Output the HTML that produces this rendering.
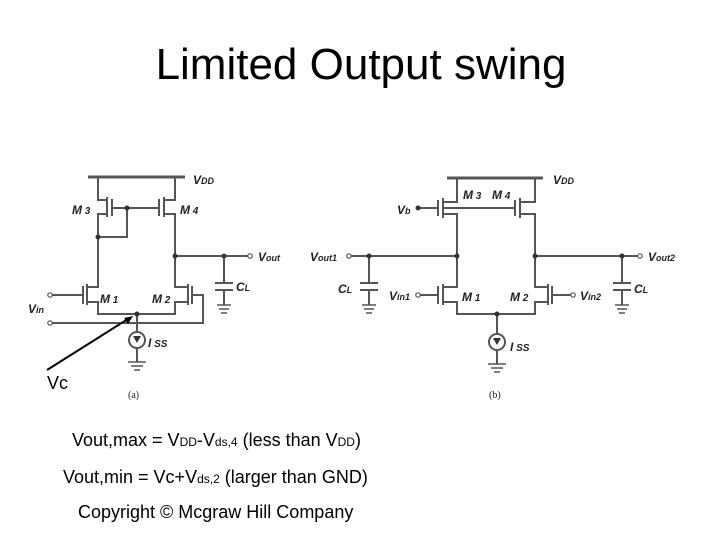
<!DOCTYPE html>
<html><head><meta charset="utf-8"><style>
body{margin:0;width:720px;height:540px;background:#fff;overflow:hidden;position:relative;font-family:"Liberation Sans",sans-serif}
.t{position:absolute;font-size:18px;color:#000;white-space:nowrap}
.s{font-size:12px}
</style></head><body>
<div style="position:absolute;left:0;width:722px;top:40px;text-align:center;font-size:44px">Limited Output swing</div>
<svg width="720" height="540" style="position:absolute;left:0;top:0" font-family="Liberation Sans" font-weight="bold" font-style="italic" font-size="12">
<g stroke="#555" stroke-width="2" fill="none">
<line x1="88" y1="177" x2="185" y2="177" stroke-width="3"/>
<polyline points="98,177 98,200 107,200"/><line x1="107" y1="197" x2="107" y2="217"/><line x1="112" y1="199" x2="112" y2="216"/>
<polyline points="107,214 98,214 98,287 87,287"/>
<line x1="112" y1="208" x2="159" y2="208"/>
<polyline points="127,208 127,237 98,237"/>
<polyline points="175,177 175,200 164,200"/><line x1="164" y1="197" x2="164" y2="217"/><line x1="159" y1="199" x2="159" y2="216"/>
<polyline points="164,214 175,214 175,287 188,287"/>
<line x1="175" y1="256" x2="248" y2="256"/>
<polyline points="224,256 224,283"/><line x1="215" y1="283" x2="233" y2="283"/><line x1="215" y1="290" x2="233" y2="290"/><line x1="224" y1="290" x2="224" y2="305"/>
<line x1="87" y1="284" x2="87" y2="305"/><line x1="83" y1="286" x2="83" y2="304"/>
<line x1="52" y1="295" x2="83" y2="295"/>
<polyline points="87,302 98,302 98,314 175,314 175,302 188,302"/>
<line x1="188" y1="284" x2="188" y2="305"/><line x1="192" y1="286" x2="192" y2="304"/>
<polyline points="192,295 203,295 203,323 52,323"/>
<line x1="137" y1="314" x2="137" y2="332"/><circle cx="137" cy="340" r="8"/><line x1="137" y1="348" x2="137" y2="362"/>
<line x1="447" y1="178" x2="543" y2="178" stroke-width="3"/>
<polyline points="457,178 457,202 443,202"/><line x1="443" y1="198" x2="443" y2="218"/><line x1="438" y1="200" x2="438" y2="216"/>
<polyline points="443,214 457,214 457,287 443,287"/>
<line x1="418" y1="208" x2="438" y2="208"/><line x1="443" y1="208" x2="515" y2="208"/>
<polyline points="535,178 535,202 520,202"/><line x1="520" y1="198" x2="520" y2="218"/><line x1="515" y1="200" x2="515" y2="216"/>
<polyline points="520,214 535,214 535,287 548,287"/>
<line x1="351" y1="256" x2="457" y2="256"/><line x1="535" y1="256" x2="638" y2="256"/>
<line x1="369" y1="256" x2="369" y2="283"/><line x1="360" y1="283" x2="378" y2="283"/><line x1="360" y1="290" x2="378" y2="290"/><line x1="369" y1="290" x2="369" y2="305"/>
<line x1="622" y1="256" x2="622" y2="283"/><line x1="613" y1="283" x2="631" y2="283"/><line x1="613" y1="290" x2="631" y2="290"/><line x1="622" y1="290" x2="622" y2="305"/>
<line x1="443" y1="284" x2="443" y2="305"/><line x1="438" y1="286" x2="438" y2="304"/><line x1="420" y1="295" x2="438" y2="295"/>
<polyline points="443,302 457,302 457,314 535,314 535,302 548,302"/>
<line x1="548" y1="284" x2="548" y2="305"/><line x1="552" y1="286" x2="552" y2="304"/><line x1="552" y1="295" x2="571" y2="295"/>
<line x1="497" y1="314" x2="497" y2="334"/><circle cx="497" cy="342" r="8"/><line x1="497" y1="350" x2="497" y2="364"/>
</g>
<g stroke="#555" stroke-width="1.5">
<path d="M128 362h18M131 366h12M134 370h6"/>
<path d="M217 305h14M219 309h10M221 313h6"/>
<path d="M362 305h14M364 309h10M366 313h6M615 305h14M617 309h10M619 313h6M488 364h18M491 368h12M494 372h6"/>
</g>
<g fill="#333">
<circle cx="98" cy="237" r="2.5"/><circle cx="127" cy="208" r="2.5"/><circle cx="175" cy="256" r="2.5"/><circle cx="224" cy="256" r="2.5"/><circle cx="137" cy="314" r="2.5"/>
<circle cx="457" cy="256" r="2.5"/><circle cx="535" cy="256" r="2.5"/><circle cx="369" cy="256" r="2.5"/><circle cx="622" cy="256" r="2.5"/><circle cx="497" cy="314" r="2.5"/><circle cx="418" cy="208" r="2.5"/>
<path d="M133 336h8l-4 7z M493 338h8l-4 7z"/>
</g>
<g fill="#fff" stroke="#555" stroke-width="1.2">
<circle cx="250" cy="256" r="2.2"/><circle cx="50" cy="295" r="2.2"/><circle cx="50" cy="323" r="2.2"/>
<circle cx="349" cy="256" r="2.2"/><circle cx="640" cy="256" r="2.2"/><circle cx="418" cy="295" r="2.2"/><circle cx="573" cy="295" r="2.2"/>
</g>
<line x1="47" y1="370" x2="128" y2="319" stroke="#000" stroke-width="2"/>
<path d="M133 316l-9 2 4 6z" fill="#000"/>
<g fill="#222">
<text x="193" y="184">V<tspan font-size="9">DD</tspan></text>
<text x="72" y="214">M<tspan font-size="10"> 3</tspan></text>
<text x="180" y="214">M<tspan font-size="10"> 4</tspan></text>
<text x="258" y="261">V<tspan font-size="9">out</tspan></text>
<text x="236" y="291">C<tspan font-size="9">L</tspan></text>
<text x="100" y="303">M<tspan font-size="10"> 1</tspan></text>
<text x="152" y="303">M<tspan font-size="10"> 2</tspan></text>
<text x="28" y="313">V<tspan font-size="9">in</tspan></text>
<text x="148" y="347">I<tspan font-size="10"> SS</tspan></text>
<text x="128" y="398" font-weight="normal" font-style="normal" font-family="Liberation Serif" font-size="10">(a)</text>
<text x="553" y="184">V<tspan font-size="9">DD</tspan></text>
<text x="463" y="199">M<tspan font-size="10"> 3</tspan></text>
<text x="492" y="199">M<tspan font-size="10"> 4</tspan></text>
<text x="397" y="214">V<tspan font-size="9">b</tspan></text>
<text x="310" y="261">V<tspan font-size="9">out1</tspan></text>
<text x="648" y="261">V<tspan font-size="9">out2</tspan></text>
<text x="338" y="293">C<tspan font-size="9">L</tspan></text>
<text x="634" y="293">C<tspan font-size="9">L</tspan></text>
<text x="389" y="300">V<tspan font-size="9">in1</tspan></text>
<text x="580" y="300">V<tspan font-size="9">in2</tspan></text>
<text x="462" y="301">M<tspan font-size="10"> 1</tspan></text>
<text x="510" y="301">M<tspan font-size="10"> 2</tspan></text>
<text x="510" y="351">I<tspan font-size="10"> SS</tspan></text>
<text x="489" y="398" font-weight="normal" font-style="normal" font-family="Liberation Serif" font-size="10">(b)</text>
</g>
</svg>
<div class="t" style="left:47px;top:373px">Vc</div>
<div class="t" style="left:72px;top:430px">Vout,max = V<span class="s">DD</span>-V<span class="s">ds,4</span> (less than V<span class="s">DD</span>)</div>
<div class="t" style="left:63px;top:467px">Vout,min = Vc+V<span class="s">ds,2</span> (larger than GND)</div>
<div class="t" style="left:78px;top:502px">Copyright © Mcgraw Hill Company</div>
</body></html>
